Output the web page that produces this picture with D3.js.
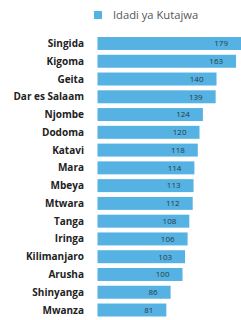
<!DOCTYPE html>
<html>
<head>
<meta charset="utf-8">
<script src="https://cdn.jsdelivr.net/npm/d3@7"></script>
<style>
  body { margin: 0; background: #fff; }
  svg { display: block; font-family: "Open Sans", sans-serif; }
  .lbl { font-weight: 700; fill: #222; font-size: 10px; }
  .val { fill: #2a3a44; font-size: 8px; }
  .leg { fill: #555; font-size: 11.2px; }
</style>
</head>
<body>
<div id="chart"></div>
<script>
// data
var regions = ["Singida", "Kigoma", "Geita", "Dar es Salaam", "Njombe", "Dodoma", "Katavi", "Mara",
  "Mbeya", "Mtwara", "Tanga", "Iringa", "Kilimanjaro", "Arusha", "Shinyanga", "Mwanza"];
var counts = [179, 163, 140, 139, 124, 120, 118, 114, 113, 112, 108, 106, 103, 100, 86, 81];
var seriesName = "Idadi ya Kutajwa";

var width = 241, height = 320,
  barColor = "#55b2e2",
  left = 97.5;

var data = regions.map(function(r, i) { return { name: r, v: counts[i] }; });

var svg = d3.select("#chart").append("svg")
  .attr("width", width)
  .attr("height", height);

var x = d3.scaleLinear()
  .domain([0, 200])
  .range([left, left + 170]);

var y = d3.scaleBand()
  .domain(regions)
  .range([34.6, 318.9])
  .paddingInner(0.27)
  .paddingOuter(0.135);

// legend
var leg = svg.append("g");
leg.append("rect")
  .attr("x", 94)
  .attr("y", 11)
  .attr("width", 8)
  .attr("height", 8)
  .attr("fill", barColor);
leg.append("text")
  .attr("class", "leg")
  .attr("x", 113)
  .attr("y", 19)
  .text(seriesName);

var bars = svg.append("g");
bars.selectAll("rect")
  .data(data)
  .enter().append("rect")
  .attr("x", x(0))
  .attr("y", function(d) { return y(d.name); })
  .attr("width", function(d) { return x(d.v) - x(0); })
  .attr("height", y.bandwidth())
  .attr("fill", barColor);

bars.selectAll(".val")
  .data(data)
  .enter().append("text")
  .attr("class", "val")
  .attr("x", function(d) { return Math.min(x(d.v), width) - 13; })
  .attr("y", function(d) { return y(d.name) + y.bandwidth() / 2; })
  .attr("dy", "0.35em")
  .attr("text-anchor", "end")
  .text(function(d) { return d.v; });

// category labels
svg.append("g").selectAll(".lbl")
  .data(data)
  .enter().append("text")
  .attr("class", "lbl")
  .attr("x", 84)
  .attr("y", function(d) { return y(d.name) + y.bandwidth() / 2; })
  .attr("dy", "0.35em")
  .attr("text-anchor", "end")
  .text(function(d) { return d.name; });
</script>
</body>
</html>
